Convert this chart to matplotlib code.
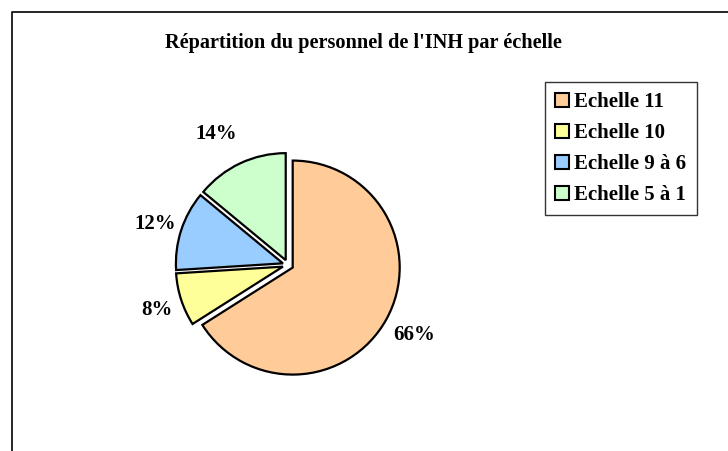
import matplotlib
matplotlib.use("Agg")
import matplotlib.pyplot as plt
from matplotlib.patches import Patch
from matplotlib.lines import Line2D

title = "Répartition du personnel de l'INH par échelle"
categories = ["Echelle 11", "Echelle 10", "Echelle 9 à 6", "Echelle 5 à 1"]
values = [66, 8, 12, 14]
colors = ["#FFCC99", "#FFFF99", "#99CCFF", "#CCFFCC"]

W, H = 728, 451
fig = plt.figure(figsize=(W / 100, H / 100), dpi=100)
font = ["Liberation Serif", "DejaVu Serif"]

# Outer frame (left and top)
fx0, fy = 12 / W, 1 - 12 / H
fig.add_artist(Line2D([fx0, fx0, 1.0], [0, fy, fy], color="black", lw=1.2,
                      transform=fig.transFigure))

cx, cy, R = 288, 265, 107
ax = fig.add_axes([0, 0, 1, 1])
wedges, texts, autotexts = ax.pie(
    values, colors=colors, startangle=90, counterclock=False,
    explode=[0.05] * len(values), autopct="%1.0f%%", pctdistance=1.3,
    wedgeprops=dict(edgecolor="black", linewidth=1.6),
    textprops=dict(fontfamily=font, fontweight="bold", fontsize=15))
ax.set_xlim(-cx / R, (W - cx) / R)
ax.set_ylim(-(H - cy) / R, cy / R)
ax.set_aspect("equal")
ax.axis("off")

# slight nudges of label placement (Excel best-fit)
x, y = autotexts[3].get_position()
autotexts[3].set_position((x - 0.1, y))
x, y = autotexts[1].get_position()
autotexts[1].set_position((x + 0.06, y))
x, y = autotexts[2].get_position()
autotexts[2].set_position((x + 0.04, y - 0.03))

fig.text(363 / W, 1 - 43 / H, title, ha="center", va="center",
         fontfamily=font, fontweight="bold", fontsize=14.6)

handles = [Patch(facecolor=c, edgecolor="black", linewidth=1.5) for c in colors]
leg = fig.legend(handles, categories, loc="upper left",
                 bbox_to_anchor=(545 / W, 1 - 82 / H),
                 prop=dict(family=font, weight="bold", size=15),
                 frameon=True, fancybox=False, edgecolor="black",
                 handlelength=0.65, handleheight=0.65, handletextpad=0.25,
                 labelspacing=0.52, borderpad=0.5, borderaxespad=0)
leg.get_frame().set_linewidth(1.0)

fig.savefig("out.png", dpi=100, facecolor="white")
